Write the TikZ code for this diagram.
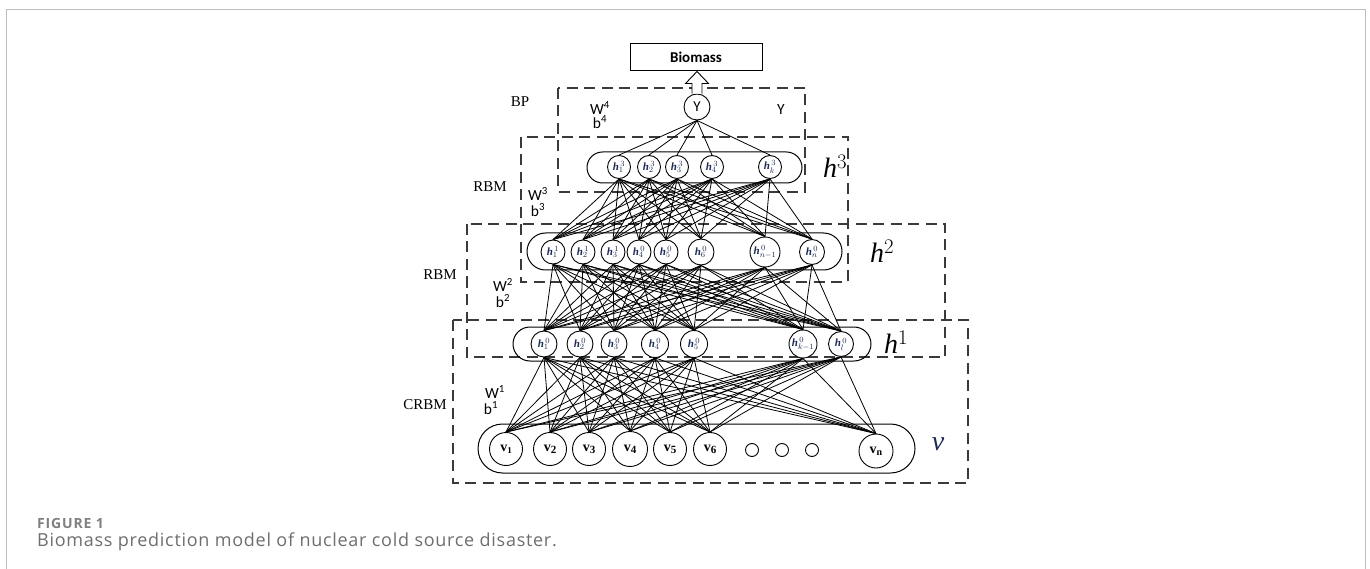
\documentclass[tikz,border=0pt]{standalone}
\usepackage{fontspec}
\setmainfont{Liberation Serif}
\newfontfamily\carl{Carlito}
\newfontfamily\capfont[LetterSpace=4]{Open Sans}
\newfontfamily\figfont[LetterSpace=6]{Open Sans}
\usetikzlibrary{calc}
\definecolor{framegray}{HTML}{BDBDBD}
\definecolor{dashgray}{HTML}{3A3A3A}
\definecolor{navy}{HTML}{1E2A55}
\definecolor{capgray}{HTML}{6E6E6E}
\definecolor{capgraydark}{HTML}{808080}
% hidden unit label: bold italic h with index and layer mark
\newcommand{\hu}[2]{{\bfseries\itshape h}${}_{#1}^{\,#2}$}

\begin{document}
\begin{tikzpicture}[x=1pt,y=-1pt,
  groupbox/.style={draw=dashgray, line width=1.2pt, dash pattern=on 11pt off 6.5pt},
  pill/.style={draw, line width=1pt},
  unit/.style={circle, draw, line width=0.9pt, fill=white, inner sep=0pt,
    minimum size=#1, font=\fontsize{11}{11}\selectfont, text=navy},
  unit/.default=23pt,
  vunit/.style={circle, draw, line width=0.9pt, fill=white, inner sep=0pt,
    minimum size=#1, font=\bfseries\fontsize{14}{14}\selectfont},
  vunit/.default=33pt,
  dotunit/.style={circle, draw, line width=0.9pt, inner sep=0pt, minimum size=13pt},
  link/.style={line width=0.8pt},
  layerlab/.style={font=\itshape\fontsize{28}{28}\selectfont},
  modlab/.style={font=\fontsize{15}{15}\selectfont},
  wblab/.style={font=\carl\fontsize{15.5}{15.5}\selectfont, inner sep=0pt},
]
\useasboundingbox (0,0) rectangle (1370,569);

% page frame
\draw[framegray, line width=1pt] (6.5,569) -- (6.5,9.5) -- (1365.5,9.5) -- (1365.5,569);

% dashed groups
\draw[groupbox] (558,88) rectangle (805,192);
\draw[groupbox] (521,137) rectangle (848,282);
\draw[groupbox] (467,224) rectangle (945,357);
\draw[groupbox] (453,320) rectangle (968,483);

% layer pills
\draw[pill, rounded corners=15.5pt] (587,152) rectangle (802,183);
\draw[pill, rounded corners=18.5pt] (527,233) rectangle (842,270);
\draw[pill, rounded corners=17pt] (513,327) rectangle (871,361);
\draw[pill, rounded corners=24.5pt] (478,424) rectangle (915,473);

% output
\node[draw, line width=1pt, minimum width=132pt, minimum height=27pt, inner sep=0pt,
  font=\carl\bfseries\fontsize{15}{15}\selectfont] (bio) at (696,57.5) {Biomass};
\node[circle, draw, line width=0.9pt, fill=white, minimum size=26pt, inner sep=0pt,
  font=\carl\fontsize{15}{15}\selectfont] (Y) at (697,107) {Y};

% hidden layer 3
\node[unit] (t1) at (619,167) {\hu{1}{3}};
\node[unit] (t2) at (649,167) {\hu{2}{3}};
\node[unit] (t3) at (677,167) {\hu{3}{3}};
\node[unit] (t4) at (712,167) {\hu{4}{3}};
\node[unit] (t5) at (770,167) {\hu{k}{3}};

% hidden layer 2
\node[unit=24pt] (s1) at (553,252) {\hu{1}{1}};
\node[unit=24pt] (s2) at (583,252) {\hu{2}{1}};
\node[unit=24pt] (s3) at (613,252) {\hu{3}{1}};
\node[unit=24pt] (s4) at (639,252) {\hu{4}{0}};
\node[unit=24pt] (s5) at (666,252) {\hu{5}{0}};
\node[unit=26pt] (s6) at (701,252) {\hu{6}{0}};
\node[unit=30pt] (s7) at (765,252) {\hu{n-1}{0}};
\node[unit=25pt] (s8) at (812,252) {\hu{n}{0}};

% hidden layer 1
\node[unit=26pt] (r1) at (544,344) {\hu{1}{0}};
\node[unit=26pt] (r2) at (580,344) {\hu{2}{0}};
\node[unit=26pt] (r3) at (614,344) {\hu{3}{0}};
\node[unit=27pt] (r4) at (655,344) {\hu{4}{0}};
\node[unit=27pt] (r5) at (694,344) {\hu{5}{0}};
\node[unit=28pt] (r6) at (803,344) {\hu{k-1}{0}};
\node[unit=25pt] (r7) at (841,344) {\hu{l}{0}};

% visible layer
\node[vunit] (v1) at (506,449) {v\raisebox{-0.3ex}{\fontsize{9}{9}\selectfont 1}};
\node[vunit] (v2) at (550,449) {v\raisebox{-0.3ex}{\fontsize{11}{11}\selectfont 2}};
\node[vunit] (v3) at (589,449) {v\raisebox{-0.3ex}{\fontsize{11}{11}\selectfont 3}};
\node[vunit=35pt] (v4) at (630,449) {v\raisebox{-0.3ex}{\fontsize{11}{11}\selectfont 4}};
\node[vunit] (v5) at (670,449) {v\raisebox{-0.3ex}{\fontsize{11}{11}\selectfont 5}};
\node[vunit] (v6) at (710,449) {v\raisebox{-0.3ex}{\fontsize{11}{11}\selectfont 6}};
\node[dotunit] (d1) at (752,450) {};
\node[dotunit] (d2) at (782,450) {};
\node[dotunit] (d3) at (812,450) {};
\node[vunit=34pt] (vn) at (876,451) {v\raisebox{-0.3ex}{\fontsize{10}{10}\selectfont n}};

% connections
\foreach \a in {v1,v2,v3,v4,v5,v6,vn}
  \foreach \b in {r1,r2,r3,r4,r5,r6,r7}
    \draw[link] (\a.north) -- (\b.south);
\foreach \a in {r1,r2,r3,r4,r5,r6,r7}
  \foreach \b in {s1,s2,s3,s4,s5,s6,s7,s8}
    \draw[link] (\a.north) -- (\b.south);
\foreach \a in {s1,s2,s3,s4,s5,s6,s7,s8}
  \foreach \b in {t1,t2,t3,t4,t5}
    \draw[link] (\a.north) -- (\b.south);
\foreach \a in {t1,t2,t3,t4,t5}
  \draw[link] (\a.north) -- (Y.south);

% hollow output arrow
\draw[line width=0.9pt, fill=white] let \p1=(Y.north), \p2=(bio.south) in
  (\x1-5pt,\y1) -- (\x1-5pt,\y2-12pt) -- (\x1-11.5pt,\y2-12pt) -- (\x1,\y2)
  -- (\x1+11.5pt,\y2-12pt) -- (\x1+5pt,\y2-12pt) -- (\x1+5pt,\y1);

% layer labels
\node[layerlab] at (835,166) {h$^{3}$};
\node[layerlab] at (882,251) {h$^{2}$};
\node[layerlab] at (896,342) {h$^{1}$};
\node[layerlab, text=navy] at (938,444) {v};

% module labels
\node[modlab] at (520,102) {BP};
\node[modlab] at (490,187) {RBM};
\node[modlab] at (440,275) {RBM};
\node[modlab] at (425,405) {CRBM};
\node[wblab] at (781,110) {Y};

% weights and biases
\node[wblab] at (600,108) {W\textsuperscript{4}};
\node[wblab] at (600,122) {b\textsuperscript{4}};
\node[wblab] at (538,194) {W\textsuperscript{3}};
\node[wblab] at (538,210) {b\textsuperscript{3}};
\node[wblab] at (503,285) {W\textsuperscript{2}};
\node[wblab] at (503,301) {b\textsuperscript{2}};
\node[wblab] at (495,392) {W\textsuperscript{1}};
\node[wblab] at (491,408) {b\textsuperscript{1}};

% caption
\node[anchor=west, inner sep=0pt, text=capgraydark,
  font=\figfont\bfseries\fontsize{14}{14}\selectfont] at (37,523) {FIGURE 1};
\node[anchor=west, inner sep=0pt, text=capgray,
  font=\capfont\fontsize{18}{18}\selectfont] at (37,542)
  {Biomass prediction model of nuclear cold source disaster.};
\end{tikzpicture}
\end{document}
